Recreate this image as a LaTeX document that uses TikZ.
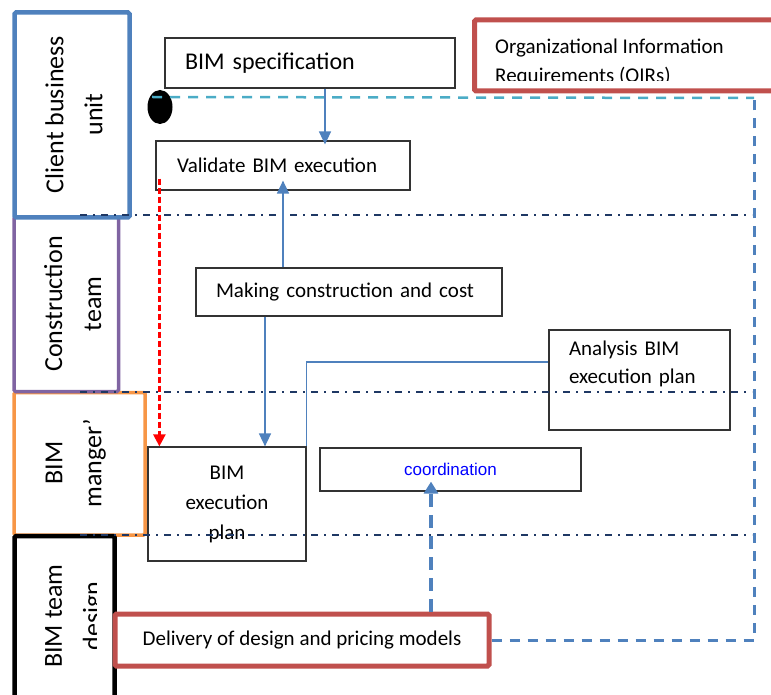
\documentclass[tikz,border=0pt]{standalone}
\usepackage{fontspec}
\setmainfont{Carlito}
\newfontfamily\arialfont{Liberation Sans}
\usepackage{xcolor}
\usetikzlibrary{arrows.meta,calc,shapes.geometric}

\definecolor{laneblue}{HTML}{4F81BD}
\definecolor{lanepurple}{HTML}{8064A2}
\definecolor{laneorange}{HTML}{F79646}
\definecolor{boxred}{HTML}{C0504D}
\definecolor{sepnavy}{HTML}{1F3864}
\definecolor{loopcyan}{HTML}{4BACC6}

\begin{document}
\begin{tikzpicture}[
  x=1pt,y=-1pt,
  lanebox/.style={draw=#1,rounded corners=1.5pt},
  lanetxt/.style={rotate=90,anchor=north,align=center,inner sep=0pt,
    font=\fontsize{26}{39}\selectfont},
  box/.style={draw=black!80,line width=1.2pt,inner ysep=0pt,align=left,
    font=\fontsize{21}{29}\selectfont},
  redbox/.style={draw=boxred,line width=5pt,rounded corners=1.5pt,
    font=\fontsize{21}{29}\selectfont},
  arr/.style={-{Triangle[width=12pt,length=13pt]},laneblue,line width=1.5pt},
  link/.style={laneblue,line width=1.5pt},
  redarr/.style={-{Triangle[width=12pt,length=12pt]},red,line width=2.4pt,
    dash pattern=on 6pt off 3pt},
  coordarr/.style={-{Triangle[width=14pt,length=12pt]},laneblue,line width=3.5pt,
    dash pattern=on 13pt off 8pt},
  lanesep/.style={sepnavy,line width=2pt,dash pattern=on 7pt off 6pt on 2pt off 6pt},
  cyanloop/.style={loopcyan,line width=2.5pt,dash pattern=on 10pt off 8pt},
  blueloop/.style={laneblue,line width=3pt,dash pattern=on 10pt off 8pt}
]
\clip (0,0) rectangle (771,695);

% lanes
\node[lanebox=laneorange,line width=3.5pt,minimum width=131pt,minimum height=142.5pt] (mgrlane) at (79.5,463.75) {};
\node[lanebox=lanepurple,line width=3.5pt,minimum width=104.5pt,minimum height=174.5pt] (constlane) at (66.25,304.25) {};
\node[lanebox=laneblue,line width=4.5pt,minimum width=115pt,minimum height=205pt] (clientlane) at (72,115) {};
\node[lanebox=black,line width=4.5pt,minimum width=100pt,minimum height=184pt] (designlane) at (64.5,628) {};

\node[lanetxt] (clientlbl) at (45,114.5) {Client business\\unit};
\node[lanetxt] (constlbl) at (44,304) {Construction\\team};
\node[lanetxt] (mgrlbl) at (45.5,463) {BIM\\manger’};
\begin{scope}
  \clip (0,538) rectangle (96,695);
  \node[lanetxt] (designlbl) at (45,616) {BIM team\\design};
\end{scope}

% boxes
\node[box,text width=250pt,inner xsep=20pt,minimum height=50pt,
  font=\fontsize{24}{29}\selectfont] (spec) at (310,63) {BIM specification};
\node[box,text width=212pt,inner xsep=21pt,minimum height=49pt] (validate) at (283,165.5) {Validate BIM execution};
\node[box,text width=266pt,inner xsep=20pt,minimum height=48pt] (making) at (349,292) {Making construction and cost};
\node[box,align=center,minimum width=158pt,minimum height=114pt,
  font=\fontsize{21}{30}\selectfont] (bep) at (227,504) {BIM\\execution\\plan};
\node[box,text width=141pt,inner xsep=20pt,minimum height=100pt,
  font=\fontsize{21}{28}\selectfont] (analysis) at (639.5,380) {Analysis BIM\\execution plan\\\strut};
\node[box,minimum width=261pt,minimum height=43pt,text=blue,
  font=\arialfont\fontsize{17}{20}\selectfont] (coord) at (450.5,469.5) {coordination};
\node[redbox,minimum width=374pt,minimum height=52pt] (delivery) at (302,640) {Delivery of design and pricing models};

\node[redbox,minimum width=325pt,minimum height=71pt] (oirs) at (637,55.5) {};
\begin{scope}
  \clip (474,20) rectangle (771,81);
  \node[anchor=north west,align=left,inner sep=0pt,
    font=\fontsize{21}{29}\selectfont] (oirstext) at (495,39) {Organizational Information\\Requirements (OIRs)};
\end{scope}

\node[ellipse,fill=black,minimum width=25pt,minimum height=34pt,inner sep=0pt] (ell) at (160,107) {};
\coordinate (loopstart) at ($(ell.center)+(-8,-10)$);
\coordinate (loopcorner) at (754,98);
\coordinate (specout) at ($(spec.south)+(15,0)$);
\coordinate (makingout) at ($(making.south)+(-84,0)$);
\coordinate (redstart) at ($(validate.south west)+(4,-12)$);
\coordinate (delivout) at ($(delivery.north)+(129,0)$);
\coordinate (analysisin) at ($(analysis.west)+(0,-18)$);

% lane separators
\foreach \sy in {215,392,535}
  \draw[lanesep] (80,\sy) -- (752,\sy);

% connectors
\draw[cyanloop] (loopstart) -- (loopcorner);
\draw[blueloop] (delivery.east) -| (loopcorner);
\draw[arr,shorten >=-4pt] (specout) -- (specout |- validate.north);
\draw[arr,shorten >=-10pt] (making.north -| validate.south) -- (validate.south);
\draw[arr] (makingout) -- (makingout |- bep.north);
\draw[redarr] (redstart) -- (redstart |- bep.north);
\draw[link] (bep.north east) |- (analysisin);
\draw[coordarr,shorten >=-10pt] (delivout) -- (delivout |- coord.south);
\end{tikzpicture}
\end{document}
